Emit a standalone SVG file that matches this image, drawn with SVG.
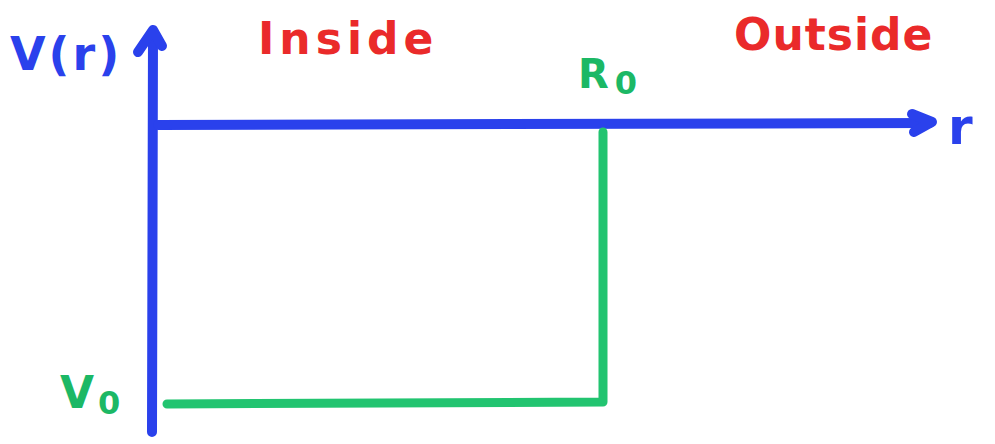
<svg xmlns="http://www.w3.org/2000/svg" width="995" height="444" viewBox="0 0 995 444">
<style>
.ax{fill:none;stroke:#2a41ec;stroke-width:10;stroke-linecap:round;stroke-linejoin:round}
.gr{fill:none;stroke:#22c470;stroke-width:9;stroke-linecap:round;stroke-linejoin:round}
.t{font-family:"DejaVu Sans","Liberation Sans",sans-serif;font-weight:bold}
.blue{fill:#2a41ec}
.red{fill:#ea2a2a}
.green{fill:#1cb865}
</style>
<rect width="995" height="444" fill="#ffffff"/>
<g id="axes">
<path class="ax" d="M152 432 L153 32"/>
<path class="ax" d="M138 52 L153 30 L162 46"/>
<path class="ax" d="M158 125 L930 123"/>
<path class="ax" d="M912 114 L932 122 L914 132"/>
</g>
<g id="well">
<path class="gr" d="M603 132 L603 402 L167 404"/>
</g>
<g id="labels">
<text class="t blue" x="10" y="70" font-size="46" letter-spacing="3">V(r)</text>
<text class="t red" x="258" y="54" font-size="44" letter-spacing="5">Inside</text>
<text class="t red" x="734" y="50" font-size="44" letter-spacing="1">Outside</text>
<text class="t green" x="578" y="88" font-size="40" letter-spacing="6">R<tspan font-size="32" dy="6">0</tspan></text>
<text class="t blue" x="948" y="144" font-size="50">r</text>
<text class="t green" x="60" y="408" font-size="44" letter-spacing="4">V<tspan font-size="32" dy="6">0</tspan></text>
</g>
</svg>
